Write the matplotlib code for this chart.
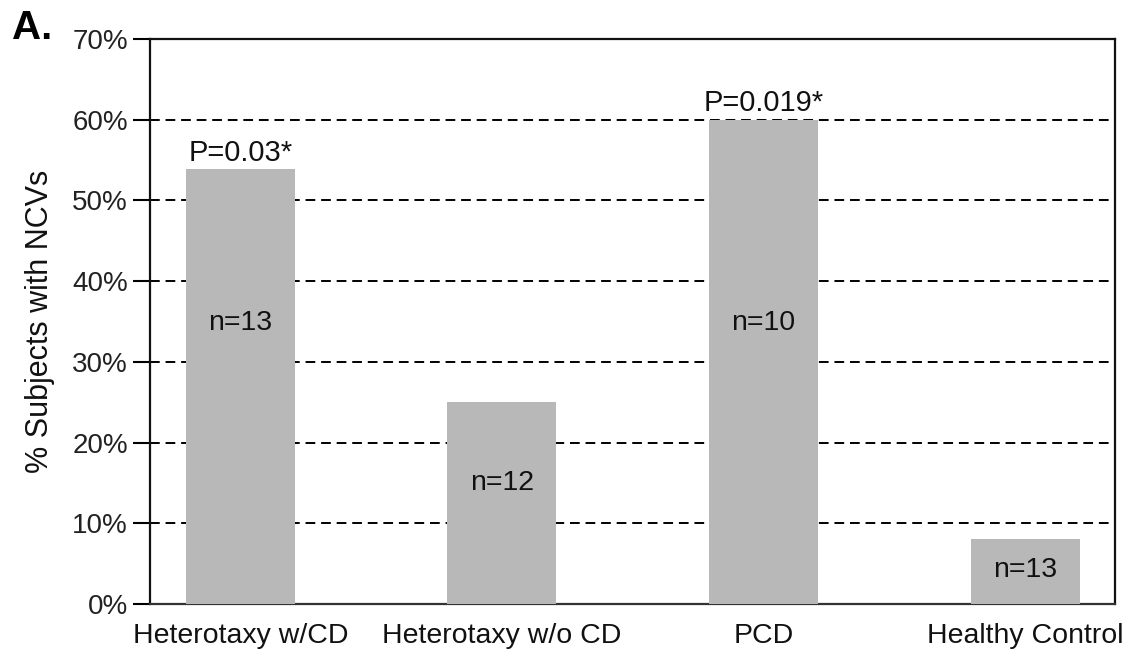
import matplotlib.pyplot as plt

# data
groups = ['Heterotaxy w/CD', 'Heterotaxy w/o CD', 'PCD', 'Healthy Control']
pct_ncv = [53.9, 25.0, 60.0, 8.0]
n_labels = ['n=13', 'n=12', 'n=10', 'n=13']
n_label_y = [34.8, 15.0, 34.8, 4.2]
p_labels = ['P=0.03*', '', 'P=0.019*', '']
yticks = [0, 10, 20, 30, 40, 50, 60, 70]

plt.rcParams['font.family'] = ['Liberation Sans', 'DejaVu Sans']

fig = plt.figure(figsize=(11.28, 6.57), dpi=100)
ax = fig.add_axes([150 / 1128, 1 - 604 / 657, (1115 - 150) / 1128, (604 - 39) / 657])

x = list(range(len(groups)))
ax.bar(x, pct_ncv, width=0.417, color='#b8b8b8', zorder=3)

# dashed grid at 10..60
for y in yticks[1:-1]:
    ax.axhline(y, color='black', linestyle=(0, (5, 3)), linewidth=1.4, zorder=1)

for xi, lab, ny in zip(x, n_labels, n_label_y):
    ax.text(xi, ny, lab, ha='center', va='center', fontsize=20.5, color='#111111', zorder=4)
for xi, lab, v in zip(x, p_labels, pct_ncv):
    if lab:
        ax.text(xi, v + 0.3, lab, ha='center', va='bottom', fontsize=21, color='#111111', zorder=4)

ax.set_xlim(-0.345, 3.343)
ax.set_ylim(0, 70)
ax.set_yticks(yticks)
ax.set_yticklabels([f'{t}%' for t in yticks], fontsize=20, color='#222222')
ax.set_xticks(x)
ax.set_xticklabels(groups, fontsize=20.5, color='#111111')
ax.tick_params(axis='y', direction='out', length=12, width=1.5, pad=4)
ax.tick_params(axis='x', length=0, pad=14)
for s in ax.spines.values():
    s.set_linewidth(1.6)
    s.set_color('#111111')
ax.spines['bottom'].set_color('#333333')

ax.set_ylabel('% Subjects with NCVs', fontsize=22, labelpad=12, color='#111111')
fig.text(12 / 1128, 1 - 28 / 657, 'A.', fontsize=29, fontweight='bold', va='center')

fig.savefig('out.png', dpi=100)
